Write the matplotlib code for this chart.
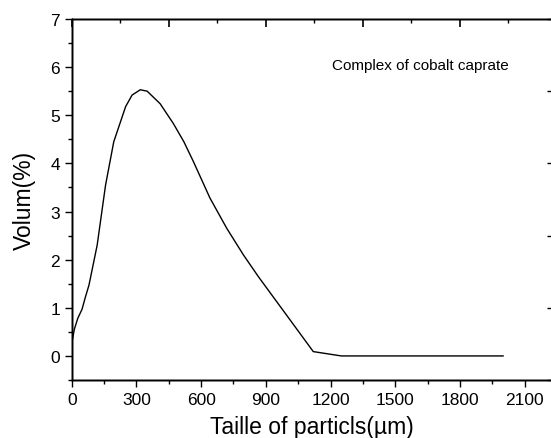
import numpy as np
import matplotlib
matplotlib.use('Agg')
import matplotlib.pyplot as plt
from matplotlib.ticker import MultipleLocator, FixedLocator, NullFormatter

plt.rcParams['font.family'] = ['Liberation Sans', 'DejaVu Sans']

# particle size distribution
size = [0, 12, 28, 48, 62, 80, 118, 157, 195, 250, 280, 318, 350, 410,
        471, 520, 564, 641, 719, 796, 865, 1120, 1250, 2000]
volum = [0.25, 0.55, 0.78, 0.97, 1.2, 1.47, 2.3, 3.55, 4.45, 5.18, 5.42, 5.53,
         5.5, 5.24, 4.83, 4.45, 4.04, 3.28, 2.65, 2.1, 1.65, 0.09, 0.0, 0.0]

xticks = [0, 300, 600, 900, 1200, 1500, 1800, 2100]
yticks = [0, 1, 2, 3, 4, 5, 6, 7]
label = 'Complex of cobalt caprate'

fig = plt.figure(figsize=(5.51, 4.39), dpi=100)
ax = fig.add_axes([71.7/551, 1-381/439, 481/551, (381-20)/439])

ax.plot(size, volum, 'k-', lw=1.0)
ax.set_xlim(0, 2230)
ax.set_ylim(-0.5, 7)

ax.set_xticks(xticks)
ax.set_yticks(yticks)
ax.xaxis.set_minor_locator(MultipleLocator(150))
ax.yaxis.set_minor_locator(MultipleLocator(0.5))
ax.tick_params(which='major', direction='out', length=5, width=1, labelsize=12.5,
               top=False, right=False)
ax.tick_params(which='minor', direction='out', length=3, width=1,
               top=False, right=False)

# extra scales on top and right (ticks only)
top = ax.twiny()
top.set_xlim(ax.get_xlim())
top.xaxis.set_major_locator(MultipleLocator(450))
top.xaxis.set_minor_locator(MultipleLocator(225))
top.xaxis.set_major_formatter(NullFormatter())
top.tick_params(which='major', direction='in', length=6, width=1.2)
top.tick_params(which='minor', direction='in', length=3, width=1)

right = ax.twinx()
right.set_ylim(ax.get_ylim())
right.yaxis.set_major_locator(FixedLocator([-0.5, 1, 2.5, 4, 5.5, 7]))
right.yaxis.set_minor_locator(FixedLocator([]))
right.yaxis.set_major_formatter(NullFormatter())
right.tick_params(which='major', direction='in', length=4, width=1)

for a in (ax, top, right):
    for s in a.spines.values():
        s.set_linewidth(1)

ax.set_xlabel('Taille of particls(µm)', fontsize=16.5, labelpad=6)
ax.set_ylabel('Volum(%)', fontsize=16.5, labelpad=10)
ax.text(1615, 6.04, label, fontsize=11, ha='center', va='center')

fig.savefig('out.png', dpi=100)
